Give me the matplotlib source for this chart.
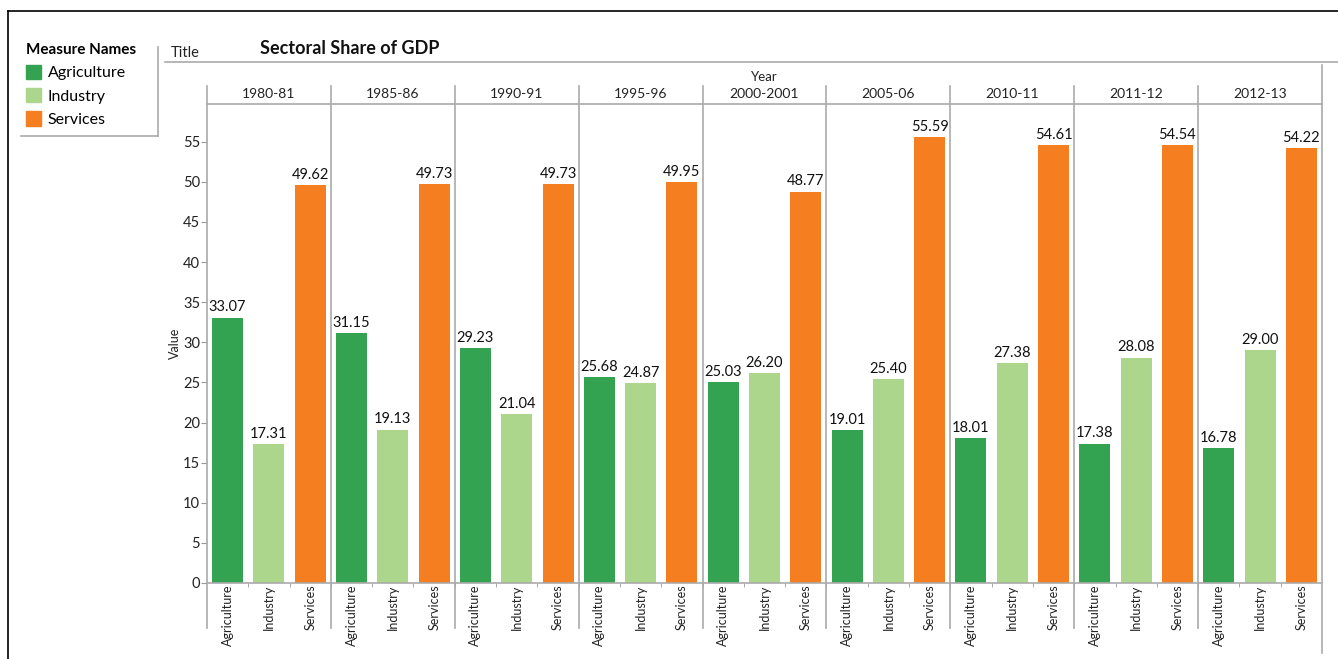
import matplotlib.pyplot as plt
from matplotlib.lines import Line2D
from matplotlib.patches import Patch
import matplotlib.transforms as mtransforms

plt.rcParams["font.family"] = ["Lato", "DejaVu Sans"]

# Sectoral share of GDP (%) by year
years = ["1980-81", "1985-86", "1990-91", "1995-96", "2000-2001",
         "2005-06", "2010-11", "2011-12", "2012-13"]
sectors = ["Agriculture", "Industry", "Services"]
agriculture = [33.07, 31.15, 29.23, 25.68, 25.03, 19.01, 18.01, 17.38, 16.78]
industry = [17.31, 19.13, 21.04, 24.87, 26.20, 25.40, 27.38, 28.08, 29.00]
services = [49.62, 49.73, 49.73, 49.95, 48.77, 55.59, 54.61, 54.54, 54.22]
colors = {"Agriculture": "#33a352", "Industry": "#add68d", "Services": "#f47e20"}

W, H = 1338, 659
fig = plt.figure(figsize=(W / 100, H / 100), dpi=100)


def fx(px):
    return px / W


def fy(py):
    return 1 - py / H


# plot area in pixels
L, R, T, B = 207, 1322, 104, 583
ax = fig.add_axes([fx(L), fy(B), fx(R - L), (B - T) / H])
ny = len(years)
values = {"Agriculture": agriculture, "Industry": industry, "Services": services}

for j, s in enumerate(sectors):
    xs = [i * 3 + j for i in range(ny)]
    ax.bar(xs, values[s], width=0.75, color=colors[s], zorder=2)
    for x, v in zip(xs, values[s]):
        ax.text(x, v + 0.4, f"{v:.2f}", ha="center", va="bottom",
                fontsize=10.5, color="#111111")

ax.set_xlim(-0.5, ny * 3 - 0.5)
ax.set_ylim(0, 59.7)
ax.set_yticks(range(0, 56, 5))
ax.set_xticks(range(ny * 3))
ax.set_xticklabels(sectors * ny, rotation=90, fontsize=9, va="top",
                   color="#222222")
ax.set_xticks([k + 0.5 for k in range(ny * 3 - 1)], minor=True)
ax.tick_params(axis="x", which="major", length=0, pad=1)
ax.tick_params(axis="x", which="minor", length=3, color="#999999")
ax.tick_params(axis="y", length=4, color="#999999", labelsize=10.5,
               labelcolor="#222222", pad=1)
for side in ["left", "right"]:
    ax.spines[side].set_visible(False)
for side in ["top", "bottom"]:
    ax.spines[side].set_color("#aaaaaa")
    ax.spines[side].set_linewidth(1.2)
ax.set_ylabel("Value", fontsize=9, color="#222222", labelpad=1)

# panel dividers and year headers
trans = mtransforms.blended_transform_factory(ax.transData, ax.transAxes)
y_lo = (B - 628) / (B - T)
y_hi = (B - 86) / (B - T)
for i in range(ny):
    ax.add_line(Line2D([i * 3 - 0.5] * 2, [y_lo, y_hi], transform=trans,
                       color="#aaaaaa", lw=1.2, clip_on=False))
    ax.text(i * 3 + 1, (B - 94) / (B - T), years[i], transform=trans,
            ha="center", va="center", fontsize=10, color="#222222")
ax.add_line(Line2D([ny * 3 - 0.5] * 2, [(B - 653) / (B - T), (B - 65) / (B - T)],
                   transform=trans, color="#aaaaaa", lw=1.2, clip_on=False))
ax.text(0.5, (B - 77) / (B - T), "Year", transform=ax.transAxes,
        ha="center", va="center", fontsize=9.5, color="#222222")

# outer frame and title row
fig.add_artist(Line2D([fx(8), 1], [fy(11), fy(11)], color="black", lw=1.2))
fig.add_artist(Line2D([fx(8), fx(8)], [fy(11), 0], color="black", lw=1.2))
fig.add_artist(Line2D([fx(165), 1], [fy(62), fy(62)], color="#aaaaaa", lw=1.2))
fig.text(fx(171), fy(53), "Title", fontsize=10.5, va="center", color="#222222")
fig.text(fx(260), fy(48), "Sectoral Share of GDP", fontsize=13,
         fontweight="bold", va="center", color="#111111")

# legend
handles = [Patch(color=colors[s]) for s in sectors]
leg = fig.legend(handles, sectors, loc="upper left",
                 bbox_to_anchor=(fx(26), fy(43)), title="Measure Names",
                 frameon=False, handlelength=0.95, handleheight=1.0,
                 handletextpad=0.4, labelspacing=0.48, borderpad=0,
                 borderaxespad=0, fontsize=11.5, alignment="left",
                 title_fontproperties={"weight": "bold", "size": 11})
fig.add_artist(Line2D([fx(158), fx(158)], [fy(47), fy(136)], color="#aaaaaa", lw=1.2))
fig.add_artist(Line2D([fx(21), fx(158)], [fy(136), fy(136)], color="#aaaaaa", lw=1.2))

fig.savefig("out.png", dpi=100)
